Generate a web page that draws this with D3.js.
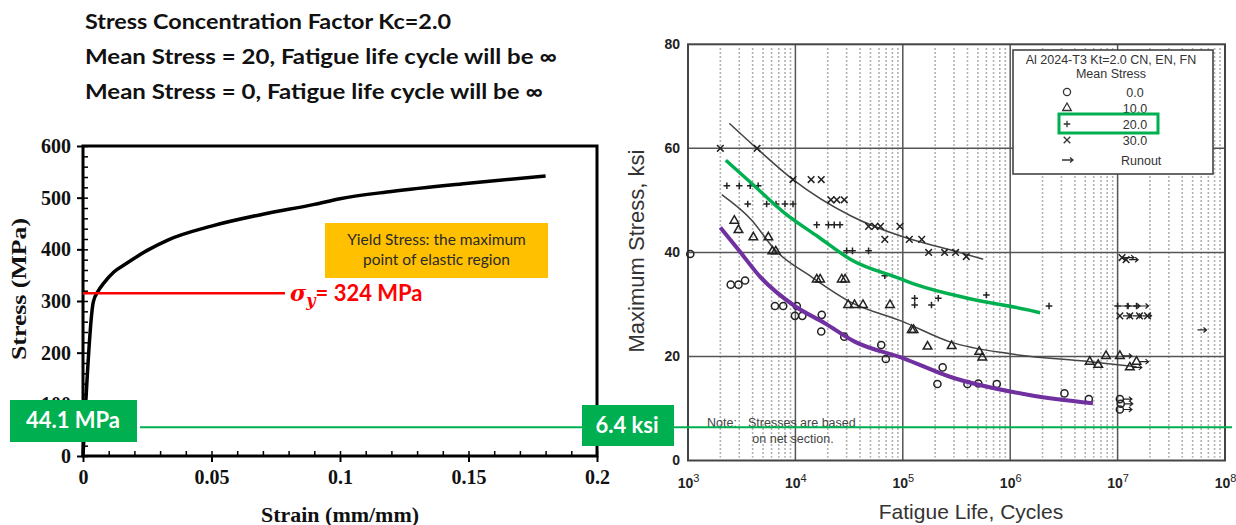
<!DOCTYPE html>
<html>
<head>
<meta charset="utf-8">
<script src="https://cdn.jsdelivr.net/npm/d3@7"></script>
<style>
  body { margin: 0; background: #fff; }
  svg { display: block; }
</style>
</head>
<body>
<svg width="1236" height="525"></svg>
<script>
// ---- header text
var headerLines = [
  "Stress Concentration Factor Kc=2.0",
  "Mean Stress = 20, Fatigue life cycle will be \u221E",
  "Mean Stress = 0, Fatigue life cycle will be \u221E"
];

// ---- stress strain curve (left)
var strainValues = [0, 0.004, 0.006, 0.008, 0.012, 0.017, 0.025, 0.033, 0.05, 0.07, 0.09, 0.1, 0.12, 0.15, 0.18];
var stressValues = [0, 298, 320, 334, 356, 373, 398, 418, 445, 468, 487, 498, 512, 528, 542];
var strainTicks = [0, 0.05, 0.1, 0.15, 0.2];
var stressTicks = [0, 100, 200, 300, 400, 500, 600];
var yieldLineStress = 315;
var yieldText = "= 324 MPa";
var noteLines = ["Yield Stress: the maximum", "point of elastic region"];
var limitMPaText = "44.1 MPa";
var limitKsi = 6.4;
var limitKsiText = "6.4 ksi";

// ---- fatigue data (right), [cycles, max stress ksi]
var circlePts = [[1050,39.7],[2500,33.8],[2950,33.8],[3400,34.6],[6450,29.7],[7700,29.7],[10300,29.7],[9900,27.8],[11600,27.8],
  [17600,28.0],[17400,24.8],[28500,23.8],[63000,22.2],[69500,19.5],[235000,17.9],[210000,14.7],[400000,14.7],[505000,14.8],
  [750000,14.7],[3200000,12.9],[5400000,11.8]];
var trianglePts = [[2700,46.1],[2950,44.3],[4060,42.9],[5600,42.9],[6100,40.2],[6560,40.2],[15800,34.8],[17000,34.8],[27000,34.8],
  [29000,34.8],[31000,29.9],[35500,29.9],[42600,29.9],[76000,29.9],[121000,25.1],[126000,25.1],[170000,21.9],[285000,22.0],
  [515000,20.9],[550000,19.8],[5500000,19.0],[6600000,18.4],[7800000,20.1]];
var plusPts = [[2300,52.8],[3000,52.8],[3800,52.8],[4500,52.8],[3600,49.3],[5400,49.3],[6600,49.3],[8000,49.3],[9500,49.3],
  [15800,45.3],[20300,45.3],[23000,45.3],[26000,45.3],[30000,40.3],[34000,40.3],[48000,40.3],[68000,35.5],[129000,31.2],
  [214000,31.2],[129000,29.9],[185000,29.9],[600000,31.8],[2300000,29.7]];
var crossPts = [[2000,60],[4400,60],[9500,54],[14000,54],[17400,54],[21400,50.1],[24300,50.1],[28500,50.1],[48000,45],[55000,45],
  [62000,45],[94000,45],[68000,42.5],[115000,42.5],[150000,42.5],[174000,40],[245000,40],[310000,40],[390000,39.2],[19000000,27.8]];

// runouts: symbol, cycles, ksi
var runoutPts = [
  ["o",10500000,11.8],["o",10700000,10.9],["o",10500000,9.8],
  ["t",10500000,20.1],["t",13000000,17.9],["t",15000000,19.0],
  ["p",10000000,29.7],["p",12500000,29.7],["p",15000000,29.7],
  ["x",10500000,27.8],["x",13000000,27.8],["x",16000000,27.8],
  ["x",11000000,39.0],["x",12000000,38.6],
  ["", 52000000,25.1]
];

// fitted curves
var crossFit = [[2430,64.8],[4370,60],[9500,54],[33000,47],[100000,43],[275000,40.5],[560000,38.7]];
var triangleFit = [[2060,51.1],[3920,46.2],[6450,40.5],[14100,35.3],[32300,30.5],[100000,26.7],[275000,22.8],[1000000,20.5],
  [5500000,19.0],[15000000,18.0]];
var plusFit = [[2250,57.7],[3900,53.3],[8000,47.5],[16300,43],[33000,38.6],[93000,35],[135000,33.75],[400000,31.2],[1500000,28.9],[1900000,28.4]];
var circleFit = [[2000,44.8],[2950,40.5],[4700,35.3],[10000,29.6],[18800,26.4],[36000,22.8],[100000,19.7],[275000,16.1],[1500000,12.6],[5900000,11.0]];

var cycleTicks = [1e3, 1e4, 1e5, 1e6, 1e7, 1e8];
var ksiTicks = [0, 20, 40, 60, 80];
var legendTitle = ["Al 2024-T3  Kt=2.0  CN, EN, FN", "Mean Stress"];
var legendRows = [["o","0.0"],["t","10.0"],["p","20.0"],["x","30.0"],["r","Runout"]];
var noteText = ["Note:", "Stresses are based", "on net section."];

var green = "#00b050";
var svg = d3.select("svg");

// ================= header
svg.selectAll(".head").data(headerLines).enter().append("text")
    .attr("class", "head")
    .attr("x", 85)
    .attr("y", function(d, i) { return 29 + i * 35; })
    .attr("textLength", function(d, i) { return [366, 472, 458][i]; })
    .attr("lengthAdjust", "spacingAndGlyphs")
    .style("font-family", "Lato, 'Open Sans', sans-serif")
    .style("font-weight", 700)
    .style("font-size", "21px")
    .style("fill", "#111")
    .text(function(d) { return d; });

// ================= left chart
var xL = d3.scaleLinear().domain([0, 0.2]).range([83, 597]);
var yL = d3.scaleLinear().domain([0, 600]).range([456, 146]);
var left = svg.append("g");
var serif = "'Liberation Serif', 'Times New Roman', serif";

// minor ticks inward
left.append("g").attr("transform", "translate(0,456)")
    .call(d3.axisBottom(xL).tickValues(d3.range(0, 0.2001, 0.01)).tickSizeInner(-5).tickSizeOuter(0).tickFormat(""))
    .call(function(g) { g.select(".domain").remove(); g.selectAll("line").attr("stroke-width", 1.5); });
left.append("g").attr("transform", "translate(83,0)")
    .call(d3.axisLeft(yL).tickValues(d3.range(0, 601, 20)).tickSizeInner(-5).tickSizeOuter(0).tickFormat(""))
    .call(function(g) { g.select(".domain").remove(); g.selectAll("line").attr("stroke-width", 1.5); });

// major ticks + labels
var xAxisL = left.append("g").attr("transform", "translate(0,456)")
    .call(d3.axisBottom(xL).tickValues(strainTicks).tickSize(6).tickPadding(8).tickFormat(function(d) { return d === 0 ? "0" : d3.format("")(d); }));
var yAxisL = left.append("g").attr("transform", "translate(83,0)")
    .call(d3.axisLeft(yL).tickValues(stressTicks).tickSize(6).tickPadding(6));
[xAxisL, yAxisL].forEach(function(g) {
  g.select(".domain").remove();
  g.selectAll("line").attr("stroke-width", 2);
  g.selectAll("text").style("font-family", serif).style("font-weight", 700).style("font-size", "20px").style("fill", "#111");
});

left.append("rect")
    .attr("x", xL(0)).attr("y", yL(600))
    .attr("width", xL(0.2) - xL(0)).attr("height", yL(0) - yL(600))
    .attr("fill", "none").attr("stroke", "#000").attr("stroke-width", 3);

var ssData = strainValues.map(function(s, i) { return [s, stressValues[i]]; });
left.append("path").datum(ssData)
    .attr("fill", "none").attr("stroke", "#000").attr("stroke-width", 3.5)
    .attr("d", d3.line().x(function(d) { return xL(d[0]); }).y(function(d) { return yL(d[1]); }).curve(d3.curveMonotoneX));

left.append("text")
    .attr("x", 340).attr("y", 522).attr("text-anchor", "middle")
    .attr("textLength", 158).attr("lengthAdjust", "spacingAndGlyphs")
    .style("font-family", serif).style("font-weight", 700).style("font-size", "20px").style("fill", "#111")
    .text("Strain (mm/mm)");
left.append("text")
    .attr("transform", "translate(26,289) rotate(-90)").attr("text-anchor", "middle")
    .attr("textLength", 142).attr("lengthAdjust", "spacingAndGlyphs")
    .style("font-family", serif).style("font-weight", 700).style("font-size", "21px").style("fill", "#111")
    .text("Stress (MPa)");

// yield line and label
left.append("line")
    .attr("x1", xL(0)).attr("x2", 285)
    .attr("y1", yL(yieldLineStress)).attr("y2", yL(yieldLineStress))
    .attr("stroke", "#ff0000").attr("stroke-width", 2.5);
var yt = left.append("text").attr("x", 290).attr("y", yL(yieldLineStress) + 8)
    .style("fill", "#ff0000").style("font-weight", 700).style("font-size", "22px");
yt.append("tspan").style("font-family", "'DejaVu Serif', serif").style("font-style", "italic").text("\u03C3");
yt.append("tspan").attr("dy", 5).style("font-family", "'DejaVu Serif', serif").style("font-style", "italic").style("font-size", "16px").text("y");
yt.append("tspan").attr("dy", -5).style("font-family", "Lato, sans-serif").text(yieldText);

// yellow note box
left.append("rect").attr("x", 325).attr("y", 223).attr("width", 223).attr("height", 55).attr("fill", "#ffc000");
left.selectAll(".ynote").data(noteLines).enter().append("text")
    .attr("x", 436.5).attr("y", function(d, i) { return 245 + i * 20; })
    .attr("text-anchor", "middle")
    .style("font-family", "Lato, sans-serif").style("font-size", "15.5px").style("fill", "#2a2a2a")
    .text(function(d) { return d; });

// ================= right chart
var xR = d3.scaleLog().domain([1e3, 1e8]).range([688, 1225]);
var yR = d3.scaleLinear().domain([0, 80]).range([460.5, 44.3]);
var right = svg.append("g");
var sans = "'Liberation Sans', Arial, sans-serif";

var minorCycles = [];
[1e3, 1e4, 1e5, 1e6, 1e7].forEach(function(dec) {
  for (var k = 2; k <= 9; k++) minorCycles.push(k * dec);
});
right.selectAll(".minor").data(minorCycles).enter().append("line")
    .attr("x1", function(d) { return xR(d); }).attr("x2", function(d) { return xR(d); })
    .attr("y1", yR(80) + 4).attr("y2", yR(0) - 3)
    .attr("stroke", "#999").attr("stroke-width", 1.6).attr("stroke-dasharray", "1.4,2.6");

right.selectAll(".vgrid").data(cycleTicks.slice(1, -1)).enter().append("line")
    .attr("x1", function(d) { return xR(d); }).attr("x2", function(d) { return xR(d); })
    .attr("y1", yR(80)).attr("y2", yR(0))
    .attr("stroke", "#555").attr("stroke-width", 1.5);
right.selectAll(".hgrid").data(ksiTicks.slice(1, -1)).enter().append("line")
    .attr("x1", xR(1e3)).attr("x2", xR(1e8))
    .attr("y1", function(d) { return yR(d); }).attr("y2", function(d) { return yR(d); })
    .attr("stroke", "#555").attr("stroke-width", 1.5);
right.append("rect")
    .attr("x", xR(1e3)).attr("y", yR(80))
    .attr("width", xR(1e8) - xR(1e3)).attr("height", yR(0) - yR(80))
    .attr("fill", "none").attr("stroke", "#444").attr("stroke-width", 2);

var yAxisR = right.append("g").attr("transform", "translate(" + xR(1e3) + ",0)")
    .call(d3.axisLeft(yR).tickValues(ksiTicks).tickSize(0).tickPadding(8));
var xAxisR = right.append("g").attr("transform", "translate(0," + yR(0) + ")")
    .call(d3.axisBottom(xR).tickValues(cycleTicks).tickSize(0).tickPadding(18));
[yAxisR, xAxisR].forEach(function(g) {
  g.select(".domain").remove();
  g.selectAll("text").style("font-family", sans).style("font-weight", 700).style("font-size", "14px").style("fill", "#222");
});
xAxisR.selectAll(".tick text").each(function(d) {
  var t = d3.select(this).text("10");
  t.append("tspan").attr("dy", -6).style("font-size", "11px").style("font-weight", 400).text(Math.round(Math.log10(d)));
});

right.append("text")
    .attr("transform", "translate(644,251) rotate(-90)").attr("text-anchor", "middle")
    .style("font-family", sans).style("font-size", "22px").style("fill", "#333")
    .text("Maximum Stress, ksi");
right.append("text")
    .attr("x", 971).attr("y", 519).attr("text-anchor", "middle")
    .style("font-family", sans).style("font-size", "21px").style("fill", "#333")
    .text("Fatigue Life, Cycles");

// note
right.append("text").attr("x", 707).attr("y", 427).text(noteText[0])
    .style("font-family", sans).style("font-size", "12.5px").style("fill", "#444");
right.append("text").attr("x", 748).attr("y", 427).text(noteText[1])
    .style("font-family", sans).style("font-size", "12.5px").style("fill", "#444");
right.append("text").attr("x", 793).attr("y", 443).attr("text-anchor", "middle").text(noteText[2])
    .style("font-family", sans).style("font-size", "12.5px").style("fill", "#444");

// markers
function markerPath(type) {
  if (type === "o") return d3.symbol(d3.symbolCircle, 40)();
  if (type === "t") return d3.symbol(d3.symbolTriangle, 32)();
  if (type === "p") return "M-3.3,0H3.3M0,-3.3V3.3";
  if (type === "x") return "M-3.3,-3.3L3.3,3.3M-3.3,3.3L3.3,-3.3";
  return "";
}
function drawPoints(pts, type) {
  right.selectAll(null).data(pts).enter().append("path")
      .attr("transform", function(d) { return "translate(" + xR(d[0]) + "," + yR(d[1]) + ")"; })
      .attr("d", markerPath(type))
      .attr("fill", "none").attr("stroke", "#222").attr("stroke-width", 1.5);
}

var fitLine = d3.line().x(function(d) { return xR(d[0]); }).y(function(d) { return yR(d[1]); }).curve(d3.curveMonotoneX);
[crossFit, triangleFit].forEach(function(f) {
  right.append("path").datum(f).attr("d", fitLine)
      .attr("fill", "none").attr("stroke", "#444").attr("stroke-width", 1.5);
});

drawPoints(circlePts, "o");
drawPoints(trianglePts, "t");
drawPoints(plusPts, "p");
drawPoints(crossPts, "x");

var arrowPath = "M3,0H12M9,-2.5L12,0L9,2.5";
var ro = right.selectAll(".runout").data(runoutPts).enter().append("g")
    .attr("transform", function(d) { return "translate(" + xR(d[1]) + "," + yR(d[2]) + ")"; });
ro.append("path").attr("d", function(d) { return markerPath(d[0]); })
    .attr("fill", "none").attr("stroke", "#222").attr("stroke-width", 1.5);
ro.append("path").attr("d", arrowPath)
    .attr("fill", "none").attr("stroke", "#222").attr("stroke-width", 1.2);

// highlighted fits
right.append("path").datum(plusFit).attr("d", fitLine)
    .attr("fill", "none").attr("stroke", green).attr("stroke-width", 3.5);
right.append("path").datum(circleFit).attr("d", fitLine)
    .attr("fill", "none").attr("stroke", "#7030a0").attr("stroke-width", 4);

// legend
var lg = right.append("g");
lg.append("rect").attr("x", 1013).attr("y", 50).attr("width", 200).attr("height", 124)
    .attr("fill", "#fff").attr("stroke", "#444").attr("stroke-width", 1.6);
lg.selectAll(".lt").data(legendTitle).enter().append("text")
    .attr("x", 1111).attr("y", function(d, i) { return 64 + i * 14; })
    .attr("text-anchor", "middle")
    .style("font-family", sans).style("font-size", "12.5px").style("fill", "#333")
    .text(function(d) { return d; });
var rowY = [92, 108, 124, 140, 160];
var rows = lg.selectAll(".lr").data(legendRows).enter().append("g")
    .attr("transform", function(d, i) { return "translate(0," + rowY[i] + ")"; });
rows.append("path")
    .attr("transform", "translate(1067,0)")
    .attr("d", function(d) { return d[0] === "r" ? "M-5,0H6M3,-2.5L6,0L3,2.5" : markerPath(d[0]); })
    .attr("fill", "none").attr("stroke", "#333").attr("stroke-width", 1.3);
rows.append("text")
    .attr("x", function(d) { return d[0] === "r" ? 1121 : 1135; })
    .attr("y", 4.5)
    .attr("text-anchor", function(d) { return d[0] === "r" ? "start" : "middle"; })
    .style("font-family", sans).style("font-size", "12.5px").style("fill", "#333")
    .text(function(d) { return d[1]; });
lg.append("rect").attr("x", 1059).attr("y", 114).attr("width", 99).attr("height", 19)
    .attr("fill", "none").attr("stroke", green).attr("stroke-width", 3);

// ================= shared limit line and boxes
svg.append("line")
    .attr("x1", 140).attr("x2", 1232)
    .attr("y1", yR(limitKsi)).attr("y2", yR(limitKsi))
    .attr("stroke", green).attr("stroke-width", 2);
svg.append("rect").attr("x", 10).attr("y", 400).attr("width", 127).attr("height", 42).attr("fill", green);
svg.append("text").attr("x", 73).attr("y", 428).attr("text-anchor", "middle")
    .style("font-family", "Lato, sans-serif").style("font-weight", 700).style("font-size", "22px").style("fill", "#fff")
    .text(limitMPaText);
svg.append("rect").attr("x", 582).attr("y", 405).attr("width", 92).attr("height", 41).attr("fill", green);
svg.append("text").attr("x", 627).attr("y", 433).attr("text-anchor", "middle")
    .style("font-family", "Lato, sans-serif").style("font-weight", 700).style("font-size", "22px").style("fill", "#fff")
    .text(limitKsiText);
</script>
</body>
</html>
